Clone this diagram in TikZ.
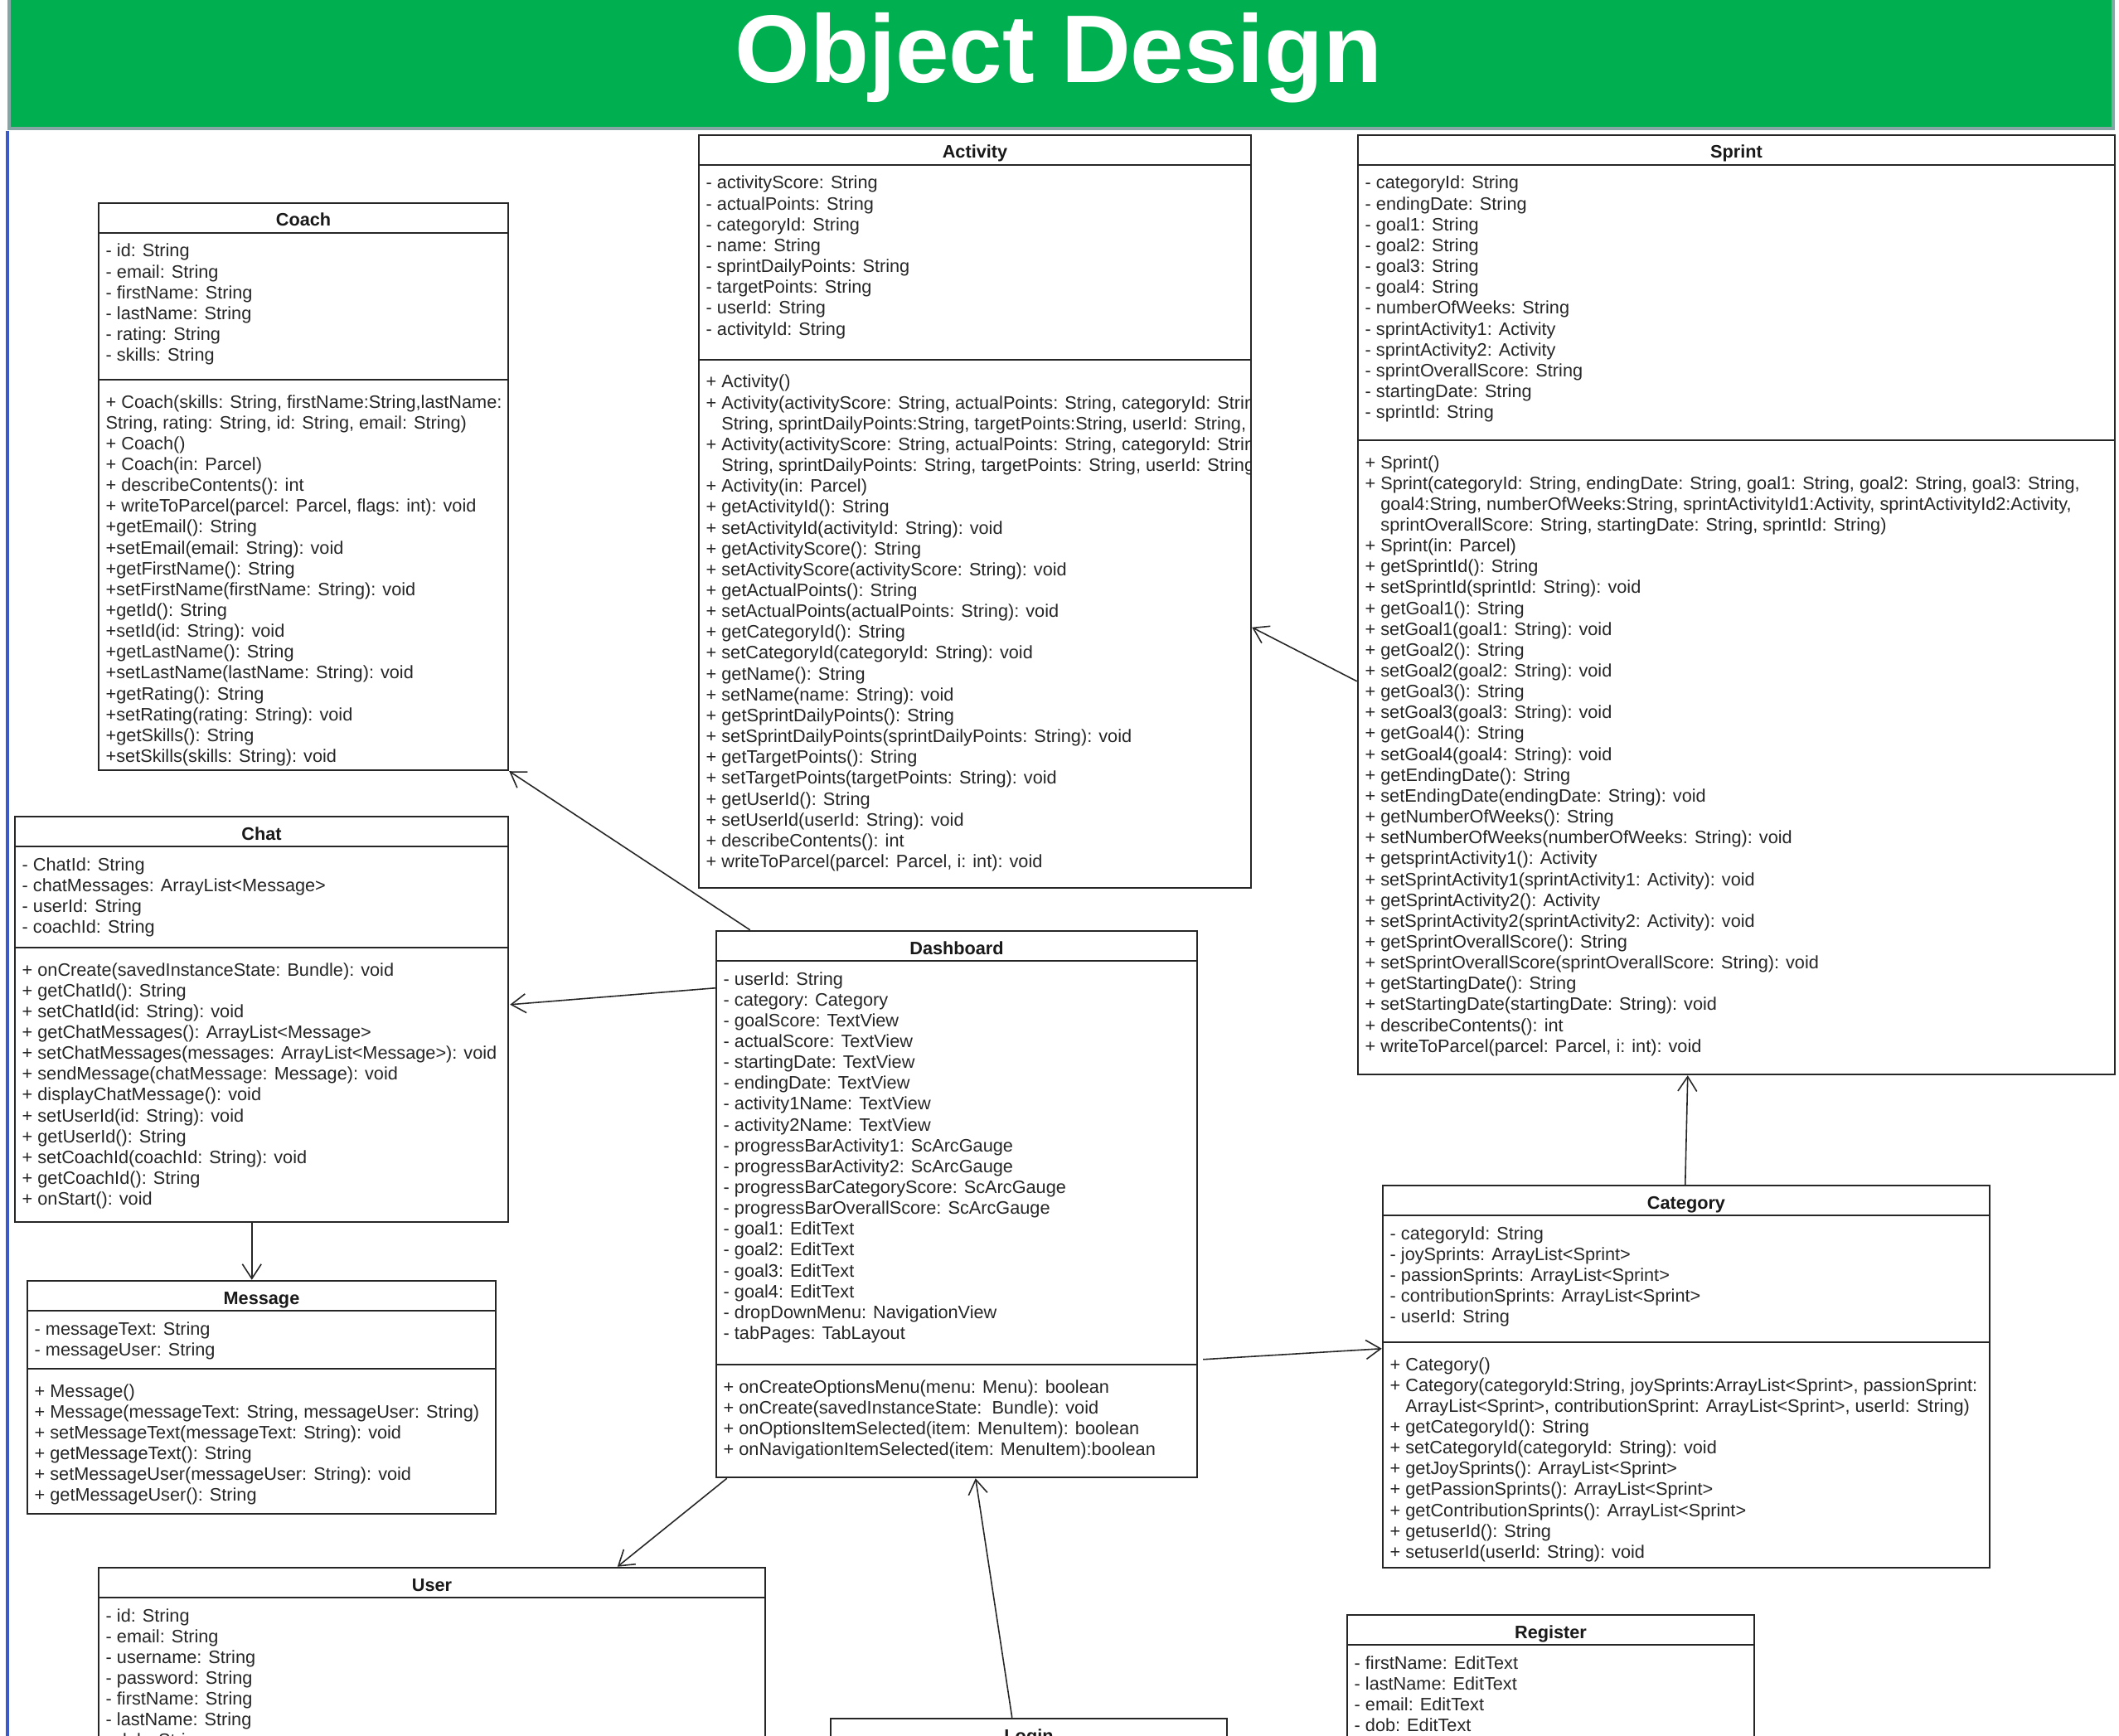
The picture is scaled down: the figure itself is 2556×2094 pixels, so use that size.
\documentclass[tikz,border=0pt]{standalone}
\usepackage{fontspec}
\setmainfont{Liberation Sans}
\usetikzlibrary{arrows.meta,calc,fit}

\definecolor{titlegreen}{HTML}{00B050}
\definecolor{titleframe}{RGB}{134,166,166}
\definecolor{slideblue}{RGB}{60,90,200}

\tikzset{
  classbox/.style={draw=black!85, line width=0.7pt, inner sep=0pt},
  member/.style={anchor=base west, inner sep=0pt, text=black!85,
    font=\fontsize{6.17}{7.2}\selectfont},
  classname/.style={anchor=base, inner sep=0pt, text=black!90,
    font=\fontsize{6.17}{7.2}\selectfont\bfseries},
  assoc/.style={draw=black!85, line width=0.45pt,
    -{Straight Barb[length=5pt,width=6.5pt]}},
}

% name, left, top, right, bottom, attribute line, title
\newcommand\umlclass[7]{%
  \node[classbox, fit={(#2,#3) (#4,#5)}] (#1) {};
  \draw[classbox] (#2,#3+36) -- (#4,#3+36);
  \draw[classbox] (#2,#6) -- (#4,#6);
  \node[classname] (#1-title) at ({(#2+#4)/2},#3+28) {#7};
}
% prefix, left, first baseline, lines
\newcommand\classmembers[4]{%
  \foreach \txt [count=\k from 0] in {#4}
    \node[member] (#1-\k) at (#2+8,#3+\k*25.15) {\txt};
}

\begin{document}
\begin{tikzpicture}[x=0.01cm, y=-0.01cm]
  \useasboundingbox (0,0) rectangle (2556,2094);
  \clip (0,0) rectangle (2556,2094);
  \fill[white] (0,0) rectangle (2556,2094);
  \draw[slideblue, line width=1pt] (9,158) -- (9,2094);
  \node[fill=titlegreen, draw=titleframe, line width=1.4pt, inner sep=0pt,
    fit={(11,-10) (2549,155)}] (banner) {};
  \node[anchor=base, inner sep=0pt, text=white,
    font=\fontsize{33}{40}\selectfont\bfseries] (heading) at (1277,100) {Object Design};

  \umlclass{coach}{119}{245}{613}{929}{458}{Coach}
  \classmembers{coach-a}{119}{310}{{- id: String}, {- email: String},
    {- firstName: String}, {- lastName: String}, {- rating: String}, {- skills: String}}
  \classmembers{coach-m}{119}{492}{{+ Coach(skills: String, firstName:String,lastName:},
    {String, rating: String, id: String, email: String)}, {+ Coach()},
    {+ Coach(in: Parcel)}, {+ describeContents(): int},
    {+ writeToParcel(parcel: Parcel, flags: int): void},
    {+getEmail(): String}, {+setEmail(email: String): void},
    {+getFirstName(): String}, {+setFirstName(firstName: String): void},
    {+getId(): String}, {+setId(id: String): void},
    {+getLastName(): String}, {+setLastName(lastName: String): void},
    {+getRating(): String}, {+setRating(rating: String): void},
    {+getSkills(): String}, {+setSkills(skills: String): void}}

  \umlclass{activity}{843}{163}{1509}{1071}{434}{Activity}
  \classmembers{activity-a}{843}{228}{{- activityScore: String}, {- actualPoints: String},
    {- categoryId: String}, {- name: String}, {- sprintDailyPoints: String},
    {- targetPoints: String}, {- userId: String}, {- activityId: String}}
  \begin{scope}
    \clip (843,434) rectangle (1508,1071);
    \classmembers{activity-m}{843}{468}{{+ Activity()},
      {+ Activity(activityScore: String, actualPoints: String, categoryId: String},
      {\phantom{+ }String, sprintDailyPoints:String, targetPoints:String, userId: String,},
      {+ Activity(activityScore: String, actualPoints: String, categoryId: String},
      {\phantom{+ }String, sprintDailyPoints: String, targetPoints: String, userId: String},
      {+ Activity(in: Parcel)}, {+ getActivityId(): String},
      {+ setActivityId(activityId: String): void}, {+ getActivityScore(): String},
      {+ setActivityScore(activityScore: String): void}, {+ getActualPoints(): String},
      {+ setActualPoints(actualPoints: String): void}, {+ getCategoryId(): String},
      {+ setCategoryId(categoryId: String): void}, {+ getName(): String},
      {+ setName(name: String): void}, {+ getSprintDailyPoints(): String},
      {+ setSprintDailyPoints(sprintDailyPoints: String): void},
      {+ getTargetPoints(): String}, {+ setTargetPoints(targetPoints: String): void},
      {+ getUserId(): String}, {+ setUserId(userId: String): void},
      {+ describeContents(): int}, {+ writeToParcel(parcel: Parcel, i: int): void}}
  \end{scope}

  \umlclass{sprint}{1638}{163}{2551}{1296}{531}{Sprint}
  \classmembers{sprint-a}{1638}{228}{{- categoryId: String}, {- endingDate: String},
    {- goal1: String}, {- goal2: String}, {- goal3: String}, {- goal4: String},
    {- numberOfWeeks: String}, {- sprintActivity1: Activity},
    {- sprintActivity2: Activity}, {- sprintOverallScore: String},
    {- startingDate: String}, {- sprintId: String}}
  \classmembers{sprint-m}{1638}{565}{{+ Sprint()},
    {+ Sprint(categoryId: String, endingDate: String, goal1: String, goal2: String, goal3: String,},
    {\phantom{+ }goal4:String, numberOfWeeks:String, sprintActivityId1:Activity, sprintActivityId2:Activity,},
    {\phantom{+ }sprintOverallScore: String, startingDate: String, sprintId: String)},
    {+ Sprint(in: Parcel)}, {+ getSprintId(): String}, {+ setSprintId(sprintId: String): void},
    {+ getGoal1(): String}, {+ setGoal1(goal1: String): void},
    {+ getGoal2(): String}, {+ setGoal2(goal2: String): void},
    {+ getGoal3(): String}, {+ setGoal3(goal3: String): void},
    {+ getGoal4(): String}, {+ setGoal4(goal4: String): void},
    {+ getEndingDate(): String}, {+ setEndingDate(endingDate: String): void},
    {+ getNumberOfWeeks(): String}, {+ setNumberOfWeeks(numberOfWeeks: String): void},
    {+ getsprintActivity1(): Activity}, {+ setSprintActivity1(sprintActivity1: Activity): void},
    {+ getSprintActivity2(): Activity}, {+ setSprintActivity2(sprintActivity2: Activity): void},
    {+ getSprintOverallScore(): String},
    {+ setSprintOverallScore(sprintOverallScore: String): void},
    {+ getStartingDate(): String}, {+ setStartingDate(startingDate: String): void},
    {+ describeContents(): int}, {+ writeToParcel(parcel: Parcel, i: int): void}}

  \umlclass{chat}{18}{985}{613}{1474}{1143}{Chat}
  \classmembers{chat-a}{18}{1050}{{- ChatId: String}, {- chatMessages: ArrayList<Message>},
    {- userId: String}, {- coachId: String}}
  \classmembers{chat-m}{18}{1177}{{+ onCreate(savedInstanceState: Bundle): void},
    {+ getChatId(): String}, {+ setChatId(id: String): void},
    {+ getChatMessages(): ArrayList<Message>},
    {+ setChatMessages(messages: ArrayList<Message>): void},
    {+ sendMessage(chatMessage: Message): void}, {+ displayChatMessage(): void},
    {+ setUserId(id: String): void}, {+ getUserId(): String},
    {+ setCoachId(coachId: String): void}, {+ getCoachId(): String}, {+ onStart(): void}}

  \umlclass{message}{33}{1545}{598}{1826}{1651}{Message}
  \classmembers{message-a}{33}{1610}{{- messageText: String}, {- messageUser: String}}
  \classmembers{message-m}{33}{1685}{{+ Message()},
    {+ Message(messageText: String, messageUser: String)},
    {+ setMessageText(messageText: String): void}, {+ getMessageText(): String},
    {+ setMessageUser(messageUser: String): void}, {+ getMessageUser(): String}}

  \umlclass{dash}{864}{1123}{1444}{1782}{1646}{Dashboard}
  \classmembers{dash-a}{864}{1188}{{- userId: String}, {- category: Category},
    {- goalScore: TextView}, {- actualScore: TextView}, {- startingDate: TextView},
    {- endingDate: TextView}, {- activity1Name: TextView}, {- activity2Name: TextView},
    {- progressBarActivity1: ScArcGauge}, {- progressBarActivity2: ScArcGauge},
    {- progressBarCategoryScore: ScArcGauge}, {- progressBarOverallScore: ScArcGauge},
    {- goal1: EditText}, {- goal2: EditText}, {- goal3: EditText}, {- goal4: EditText},
    {- dropDownMenu: NavigationView}, {- tabPages: TabLayout}}
  \classmembers{dash-m}{864}{1680}{{+ onCreateOptionsMenu(menu: Menu): boolean},
    {+ onCreate(savedInstanceState:\ \ Bundle): void},
    {+ onOptionsItemSelected(item: MenuItem): boolean},
    {+ onNavigationItemSelected(item: MenuItem):boolean}}

  \umlclass{category}{1668}{1430}{2400}{1891}{1619}{Category}
  \classmembers{category-a}{1668}{1495}{{- categoryId: String},
    {- joySprints: ArrayList<Sprint>}, {- passionSprints: ArrayList<Sprint>},
    {- contributionSprints: ArrayList<Sprint>}, {- userId: String}}
  \classmembers{category-m}{1668}{1653}{{+ Category()},
    {+ Category(categoryId:String, joySprints:ArrayList<Sprint>, passionSprint:},
    {\phantom{+ }ArrayList<Sprint>, contributionSprint: ArrayList<Sprint>, userId: String)},
    {+ getCategoryId(): String}, {+ setCategoryId(categoryId: String): void},
    {+ getJoySprints(): ArrayList<Sprint>}, {+ getPassionSprints(): ArrayList<Sprint>},
    {+ getContributionSprints(): ArrayList<Sprint>}, {+ getuserId(): String},
    {+ setuserId(userId: String): void}}

  \umlclass{user}{119}{1891}{923}{2400}{2300}{User}
  \classmembers{user-a}{119}{1956}{{- id: String}, {- email: String}, {- username: String},
    {- password: String}, {- firstName: String}, {- lastName: String}, {- dob: String}}

  \umlclass{login}{1002}{2073}{1480}{2400}{2300}{Login}

  \umlclass{register}{1625}{1948}{2116}{2400}{2300}{Register}
  \classmembers{register-a}{1625}{2013}{{- firstName: EditText}, {- lastName: EditText},
    {- email: EditText}, {- dob: EditText}}

  \draw[assoc] ($(dash.north west)+(42,0)$) -- (coach.south east);
  \draw[assoc] ($(dash.north west)+(0,70)$) -- ($(chat.north east)+(1,228)$);
  \draw[assoc] ($(dash.south west)+(14,0)$) -- ($(user.north west)+(627,0)$);
  \draw[assoc] ($(dash.north east)+(6,518)$) -- ($(category.north west)+(0,198)$);
  \draw[assoc] ($(login.north west)+(220,0)$) -- ($(dash.south west)+(314,0)$);
  \draw[assoc] ($(chat.south west)+(287,0)$) -- ($(message.north west)+(272,0)$);
  \draw[assoc] ($(sprint.north west)+(0,660)$) -- ($(activity.north east)+(0,595)$);
  \draw[assoc] ($(category.north west)+(366,0)$) -- ($(sprint.south west)+(399,0)$);
\end{tikzpicture}
\end{document}
